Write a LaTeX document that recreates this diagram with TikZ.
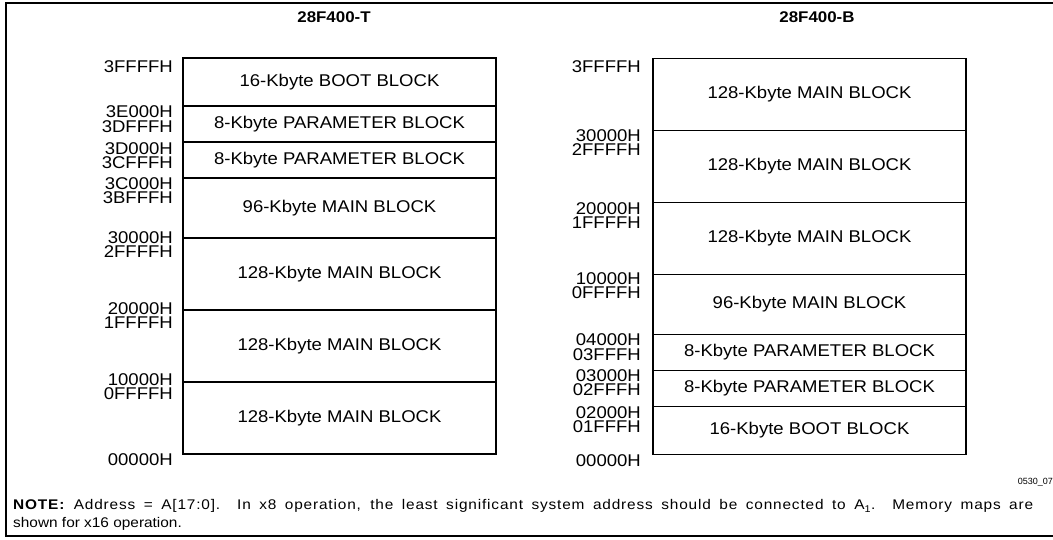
\documentclass[tikz,border=0pt]{standalone}
\usepackage{fontspec}
\setmainfont{Liberation Sans}
\newfontfamily\blockfont{Liberation Sans}[FakeStretch=1.09]
\newfontfamily\notefont{Liberation Sans}[FakeStretch=1.1]
\newfontfamily\notewide{Liberation Sans}[FakeStretch=1.1,LetterSpace=6]
\usetikzlibrary{positioning}

\begin{document}
\begin{tikzpicture}[x=1pt,y=-1pt,node distance=0pt]
                \tikzstyle{blk}=[draw=black,line width=1.4pt,inner sep=0pt,outer sep=0pt,minimum width=313pt,font=\blockfont\fontsize{17}{20}\selectfont]
                \tikzstyle{addr}=[anchor=east,inner sep=0pt,font=\blockfont\fontsize{17}{20}\selectfont]
                \tikzstyle{title}=[inner sep=0pt,font=\blockfont\bfseries\fontsize{15.5}{18}\selectfont]
                \useasboundingbox (0,0) rectangle (1053,540);
                \draw[line width=2pt] (1060,3) -- (6,3) -- (6,536) -- (1060,536);

                \node[title]                                 (ttitle) at (334,17)    {28F400-T};
                \node[blk, minimum height=48pt]              (tboot) at (339.5,82)   {16-Kbyte BOOT BLOCK};
                \node[blk, minimum height=36pt, below=of tboot]   (tparA)        {8-Kbyte PARAMETER BLOCK};
                \node[blk, minimum height=36pt, below=of tparA]   (tparB)        {8-Kbyte PARAMETER BLOCK};
                \node[blk, minimum height=60pt, below=of tparB]   (tmainD)       {96-Kbyte MAIN BLOCK};
                \node[blk, minimum height=72pt, below=of tmainD]  (tmainC)       {128-Kbyte MAIN BLOCK};
                \node[blk, minimum height=72pt, below=of tmainC]  (tmainB)       {128-Kbyte MAIN BLOCK};
                \node[blk, minimum height=72pt, below=of tmainB]  (tmainA)       {128-Kbyte MAIN BLOCK};

                \foreach \y/\t [count=\i] in {67/3FFFFH, 111.5/3E000H, 126.5/3DFFFH, 148.5/3D000H, 162.5/3CFFFH,
                    183.5/3C000H, 197.5/3BFFFH, 238/30000H, 252/2FFFFH, 309/20000H, 323/1FFFFH,
                    380/10000H, 394/0FFFFH, 460/00000H}
                    \node[addr] (ta\i) at (173,\y) {\t};

                \node[title]                                 (btitle) at (817,17)    {28F400-B};
                \node[blk, minimum height=72pt]              (bmainC) at (809.5,94.5) {128-Kbyte MAIN BLOCK};
                \node[blk, minimum height=72pt, below=of bmainC]  (bmainB)       {128-Kbyte MAIN BLOCK};
                \node[blk, minimum height=72pt, below=of bmainB]  (bmainA)       {128-Kbyte MAIN BLOCK};
                \node[blk, minimum height=60pt, below=of bmainA]  (bmainD)       {96-Kbyte MAIN BLOCK};
                \node[blk, minimum height=36pt, below=of bmainD]  (bparB)        {8-Kbyte PARAMETER BLOCK};
                \node[blk, minimum height=36pt, below=of bparB]   (bparA)        {8-Kbyte PARAMETER BLOCK};
                \node[blk, minimum height=48pt, below=of bparA]   (bboot)        {16-Kbyte BOOT BLOCK};

                \foreach \y/\t [count=\i] in {67/3FFFFH, 136/30000H, 149.5/2FFFFH, 209/20000H, 222.5/1FFFFH,
                    279/10000H, 293/0FFFFH, 339.5/04000H, 355/03FFFH, 376/03000H, 390/02FFFH,
                    412.5/02000H, 427/01FFFH, 461/00000H}
                    \node[addr] (ba\i) at (641,\y) {\t};

                \node[anchor=east,inner sep=0pt,font=\fontsize{9}{10}\selectfont] (fig) at (1053,482) {0530\_07};
                \node[anchor=north west,inner sep=0pt,align=left,font=\notefont\fontsize{14}{17.5}\selectfont] (note) at (13,499.5)
                    {\makebox[1020pt][s]{\notewide\textbf{NOTE:} Address = A[17:0]. In x8 operation, the least significant system address should be connected to A\textsubscript{1}. Memory maps are}\\
                     shown for x16 operation.};
            \end{tikzpicture}
\end{document}
